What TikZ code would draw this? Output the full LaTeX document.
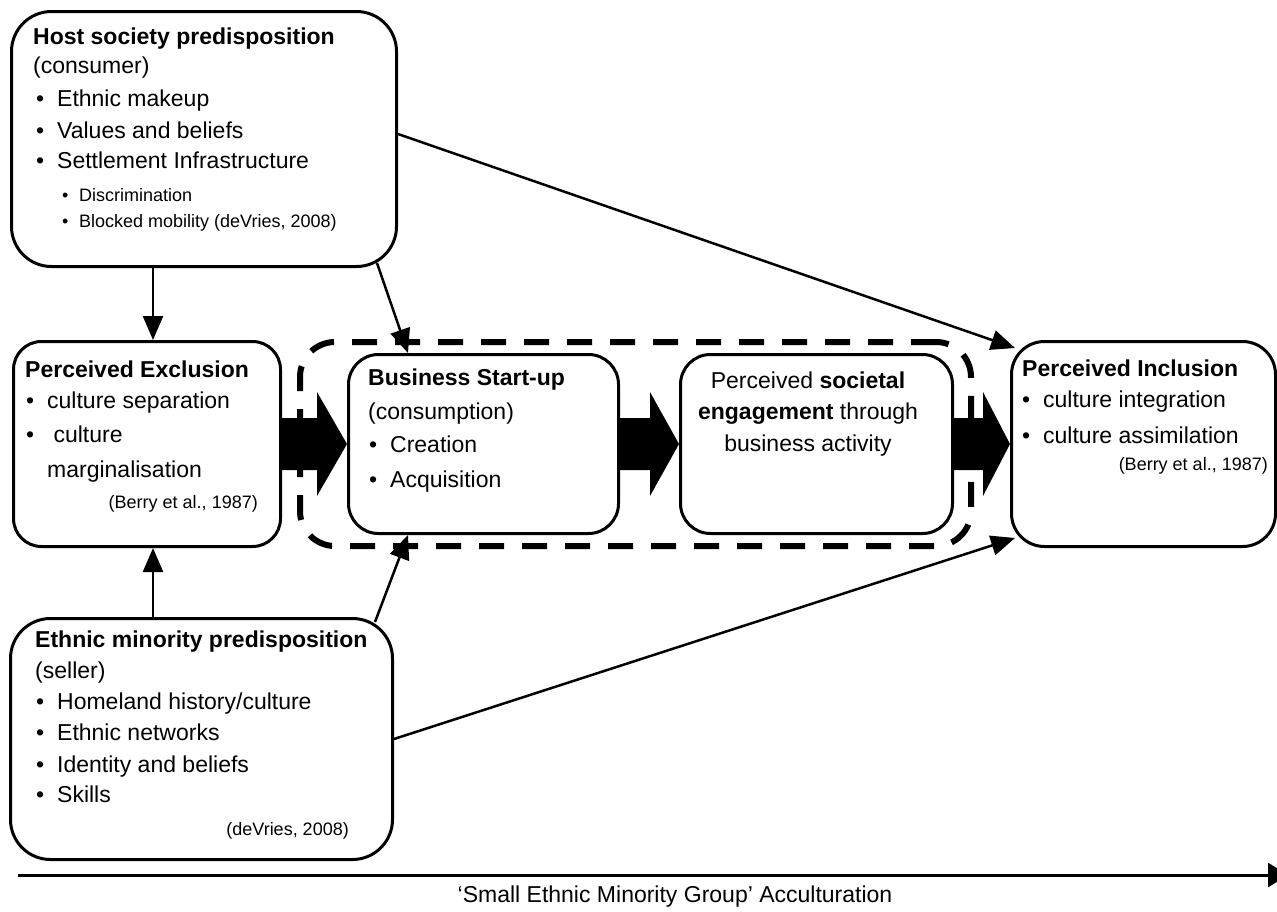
\documentclass[tikz,border=0pt]{standalone}
\usepackage{fontspec}
\setmainfont{Liberation Sans}
\usetikzlibrary{arrows.meta,calc}
\newcommand\bul[1]{\makebox[21pt][l]{\textbullet}#1}
\newcommand\sbul[1]{\makebox[17pt][l]{\textbullet}#1}
\newcommand\blkarrow[3]{%
  \fill ([yshift=26pt]#1) -- ([xshift=-#3pt,yshift=26pt]#2) -- ([xshift=-#3pt,yshift=52pt]#2) -- (#2)
     -- ([xshift=-#3pt,yshift=-52pt]#2) -- ([xshift=-#3pt,yshift=-26pt]#2) -- ([yshift=-26pt]#1) -- cycle;}
\tikzset{
  box/.style={draw, line width=3pt, inner sep=0pt, anchor=north west},
  tx/.style={inner sep=0pt, anchor=base west, font=\fontsize{23pt}{28pt}\selectfont},
  txc/.style={tx, anchor=base},
  sm/.style={inner sep=0pt, anchor=base west, font=\fontsize{18pt}{22pt}\selectfont},
  smr/.style={sm, anchor=base east},
  conn/.style={line width=2.5pt, -{Triangle[length=24pt,width=20pt]}},
}
\begin{document}
\begin{tikzpicture}[x=1pt,y=-1pt]
\useasboundingbox[fill=white] (0,0) rectangle (1277,911);

% boxes
\node[box, rounded corners=40pt, minimum width=385pt, minimum height=255pt] (host) at (10,10) {};
\node[box, rounded corners=28pt, minimum width=267pt, minimum height=205pt] (excl) at (12,340) {};
\node[box, rounded corners=30pt, minimum width=270pt, minimum height=179pt] (bus) at (347,353) {};
\node[box, rounded corners=30pt, minimum width=272pt, minimum height=179pt] (eng) at (679,353) {};
\node[box, rounded corners=33pt, minimum width=264pt, minimum height=205pt] (incl) at (1010,340) {};
\node[box, rounded corners=40pt, minimum width=382pt, minimum height=241pt] (eth) at (9,617) {};

% block arrows
\blkarrow{excl.east}{bus.west}{30}
\blkarrow{bus.east}{eng.west}{29}
\blkarrow{eng.east}{incl.west}{27}

% dashed group
\node[draw, line width=6pt, dash pattern=on 25pt off 18pt, rounded corners=35pt, inner sep=0pt,
      minimum width=671pt, minimum height=204pt, anchor=north west] (grp) at (297,339) {};

% host text
\node[tx] (hA) at (33,44) {\bfseries Host society predisposition};
\node[tx] (hB) at (33,73) {(consumer)};
\node[tx] (hC) at (36,106) {\bul{Ethnic makeup}};
\node[tx] (hD) at (36,138) {\bul{Values and beliefs}};
\node[tx] (hE) at (36,168) {\bul{Settlement Infrastructure}};
\node[sm] (hF) at (62,201) {\sbul{Discrimination}};
\node[sm] (hG) at (62,227) {\sbul{Blocked mobility (deVries, 2008)}};

% exclusion text
\node[tx] (xA) at (25,377) {\bfseries Perceived Exclusion};
\node[tx] (xB) at (26,408) {\bul{culture separation}};
\node[tx] (xC) at (26,442) {\bul{\ culture}};
\node[tx] (xD) at (47,477) {marginalisation};
\node[smr] (xE) at (258,508) {(Berry et al., 1987)};

% business text
\node[tx] (bA) at (368,385) {\bfseries Business Start-up};
\node[tx] (bB) at (368,419) {(consumption)};
\node[tx] (bC) at (369,452) {\bul{Creation}};
\node[tx] (bD) at (369,487) {\bul{Acquisition}};

% engagement text
\node[txc] (eA) at (808,388) {Perceived \textbf{societal}};
\node[txc] (eB) at (808,419) {\textbf{engagement} through};
\node[txc] (eC) at (808,451) {business activity};

% inclusion text
\node[tx] (iA) at (1022,376) {\bfseries Perceived Inclusion};
\node[tx] (iB) at (1022,407) {\bul{culture integration}};
\node[tx] (iC) at (1022,443) {\bul{culture assimilation}};
\node[smr] (iD) at (1268,470) {(Berry et al., 1987)};

% ethnic text
\node[tx] (tA) at (35,647) {\bfseries Ethnic minority predisposition};
\node[tx] (tB) at (35,678) {(seller)};
\node[tx] (tC) at (36,709) {\bul{Homeland history/culture}};
\node[tx] (tD) at (36,740) {\bul{Ethnic networks}};
\node[tx] (tE) at (36,772) {\bul{Identity and beliefs}};
\node[tx] (tF) at (36,802) {\bul{Skills}};
\node[smr] (tG) at (349,835) {(deVries, 2008)};

% connectors
\coordinate (vx) at (153,0);
\draw[conn] (host.south -| vx) -- (excl.north -| vx);
\draw[conn] (eth.north -| vx) -- (excl.south -| vx);
\draw[conn] ([xshift=-21pt,yshift=5pt]host.south east) -- ([xshift=61pt]bus.north west);
\draw[conn] ([xshift=-19pt,yshift=-5pt]eth.north east) -- ([xshift=61pt]bus.south west);
\draw[conn] ([yshift=5pt]host.east) -- ([xshift=5pt,yshift=-8pt]incl.north west);
\draw[conn] (eth.east) -- ([xshift=5pt,yshift=10pt]incl.south west);

% axis
\coordinate (axS) at (18,875);
\coordinate (axE) at (1288,875);
\draw[line width=3pt, -{Triangle[length=20pt,width=24pt]}] (axS) -- (axE);
\node[txc] (lab) at (675,902) {‘Small Ethnic Minority Group’ Acculturation};
\end{tikzpicture}
\end{document}
